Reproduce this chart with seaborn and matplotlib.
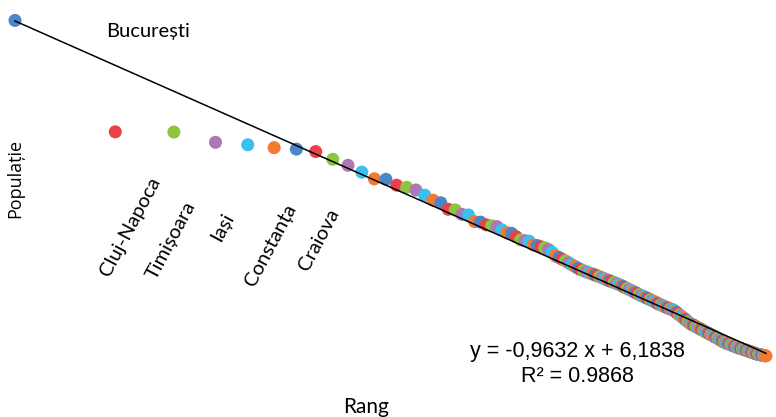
"""Rank-size plot of Romanian towns (log-log) with the fitted power-law line."""
import matplotlib

matplotlib.use("Agg")
import matplotlib.pyplot as plt
import numpy as np
import pandas as pd
import seaborn as sns

# ---------- data ----------
populatie = [
    1540000, 288000, 287000, 246000, 237000, 227000, 222000, 214000, 190500, 174000,
    157000, 142000, 141000, 129000, 125000, 120000, 111000, 103000, 99000, 89800,
    88900, 83200, 82400, 74500, 74000, 71000, 70000, 69200, 65800, 63000,
    62500, 59400, 56600, 56000, 55500, 52500, 52000, 51000, 50300, 49000,
    47000, 44500, 43500, 42300, 41300, 40100, 39000, 38000, 37000, 36200,
    35600, 35000, 34500, 34000, 33500, 33000, 32500, 32000, 31500, 31000,
    30600, 30200, 29800, 29400, 29000, 28600, 28100, 27600, 27200, 26800,
    26400, 26000, 25600, 25200, 24800, 24500, 24200, 23900, 23600, 23300,
    23000, 22700, 22400, 22100, 21800, 21500, 21300, 21100, 20800, 20600,
    20400, 20200, 20000, 19800, 19700, 19300, 19000, 18600, 18300, 18000,
    17700, 17400, 17100, 16800, 16500, 16200, 16000, 15800, 15700, 15500,
    15300, 15200, 15000, 14900, 14700, 14600, 14400, 14300, 14100, 14000,
    13900, 13700, 13600, 13500, 13400, 13200, 13100, 13000, 12900, 12700,
    12600, 12500, 12400, 12200, 12150, 12100, 12000, 11900, 11850, 11800,
    11700, 11600, 11550, 11500, 11400, 11350, 11300, 11200, 11150, 11100,
    11050, 11000, 10950, 10900, 10850, 10800, 10750, 10700, 10650, 10600,
    10550, 10500, 10450, 10400, 10350, 10300, 10250, 10200, 10170, 10140,
    10110, 10080, 10050, 10020, 10000, 9970, 9940, 9920, 9900, 9880,
]
rang = list(range(1, len(populatie) + 1))
orase = ["București", "Cluj-Napoca", "Timișoara", "Iași", "Constanța", "Craiova"]

# trend line  log10(P) = panta * log10(R) + intercept
panta = -0.9632
intercept = 6.1838
r2 = 0.9868

culori = ["#4a86c8", "#e8424a", "#8cc63f", "#ac78b8", "#3bbfee", "#f47a30"]

df = pd.DataFrame({"rang": rang, "populatie": populatie})
df["grup"] = [(r - 1) % len(culori) for r in rang]

# ---------- plot ----------
W, H = 776, 417
fig = plt.figure(figsize=(W / 100, H / 100), dpi=100)
ax = fig.add_axes([0, 0, 1, 1])
ax.set_xscale("log")
ax.set_yscale("log")

sns.scatterplot(
    data=df, x="rang", y="populatie", hue="grup",
    palette=culori, s=88, linewidth=0, legend=False, ax=ax, zorder=2,
)

xs = np.array([rang[0], rang[-1]], dtype=float)
ax.plot(xs, 10 ** (intercept + panta * np.log10(xs)), color="black", lw=1.1, zorder=3)

# log10(rank) 0 -> 15 px, 333 px per decade; log10(pop) 6.1838 -> 21 px, 153 px per decade
ax.set_xlim(10 ** (-15 / 333), 10 ** ((W - 15) / 333))
ax.set_ylim(10 ** (intercept - (H - 21) / 153), 10 ** (intercept + 21 / 153))
ax.axis("off")


def px(x, y):
    return x / W, 1 - y / H


lbl_font = ["Lato", "DejaVu Sans"]
fig.text(*px(148, 32), orase[0], ha="center", va="center", fontsize=14.5, family=lbl_font)

centre = [(130, 227), (171, 240), (222, 227), (271, 245), (319, 240)]
for nume, (cx, cy) in zip(orase[1:], centre):
    fig.text(*px(cx, cy), nume, ha="center", va="center", rotation=62,
             rotation_mode="anchor", fontsize=14.5, family=lbl_font)

fig.text(*px(15, 178), "Populație", ha="center", va="center", rotation=90,
         fontsize=13, family=["Open Sans", "DejaVu Sans"])
fig.text(*px(366, 407), "Rang", ha="center", va="center", fontsize=15, family=lbl_font)

eq_font = ["Liberation Sans", "DejaVu Sans"]
eq = f"y = {panta:.4f} x + {intercept:.4f}".replace(".", ",")
fig.text(*px(577, 352), eq, ha="center", va="center", fontsize=15.5, family=eq_font)
fig.text(*px(577, 376), f"R² = {r2:.4f}", ha="center", va="center", fontsize=15.5,
         family=eq_font)

fig.savefig("out.png", dpi=100)
plt.close(fig)
